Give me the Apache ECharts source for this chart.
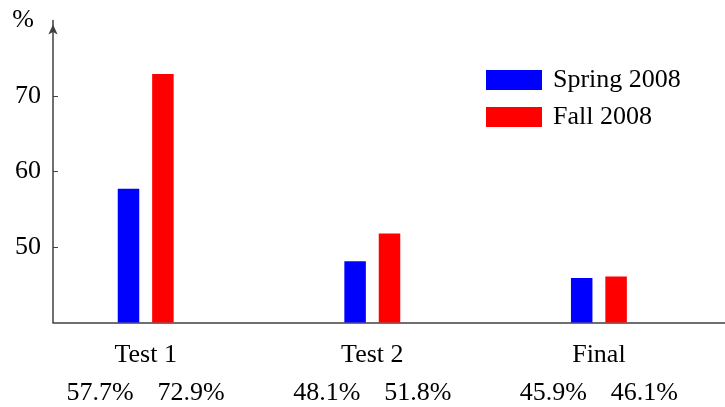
<!DOCTYPE html>
<html>
<head>
<meta charset="utf-8">
<script src="https://cdn.jsdelivr.net/npm/echarts@6/dist/echarts.min.js"></script>
<style>
  html, body { margin: 0; padding: 0; background: #fff; }
  #chart { width: 725px; height: 407px; }
</style>
</head>
<body>
<div id="chart"></div>
<script>
var categories = ['Test 1', 'Test 2', 'Final']
var spring = [57.7, 48.1, 45.9]
var fall = [72.9, 51.8, 46.1]
var yTicks = [50, 60, 70]

var font = 'Liberation Serif'
var fs = 26
var axisColor = '#404040'

var myChart = echarts.init(document.getElementById('chart'))

// 类别轴标签：名称 + 两个百分比
function catLabel (value, idx) {
  return '{c|' + value + '}\n{a|' + spring[idx].toFixed(1) + '%}{b|' + fall[idx].toFixed(1) + '%}'
}

var option = {
  animation: false,
  textStyle: { fontFamily: font },
  legend: {
    orient: 'vertical',
    left: 486,
    top: 67,
    padding: 0,
    icon: 'rect',
    itemWidth: 56,
    itemHeight: 20,
    itemGap: 11,
    itemStyle: { borderWidth: 0 },
    textStyle: { fontFamily: font, fontSize: fs, color: '#000', padding: [0, 0, 0, 6] },
    data: ['Spring 2008', 'Fall 2008']
  },
  grid: [
    { left: 32.4, right: 12.8, top: 20.5, bottom: 84.5 },
    { left: 53, right: 0, top: 20.5, bottom: 84.5 }
  ],
  xAxis: [{
    type: 'category',
    gridIndex: 0,
    data: categories,
    axisLine: { show: false },
    axisTick: { show: false },
    axisLabel: {
      margin: 14,
      formatter: catLabel,
      rich: {
        c: { fontFamily: font, fontSize: fs, color: '#000', lineHeight: 38 },
        a: { fontFamily: font, fontSize: fs, color: '#000', lineHeight: 38, width: 91, align: 'center' },
        b: { fontFamily: font, fontSize: fs, color: '#000', lineHeight: 38, width: 91, align: 'center' }
      }
    }
  }, {
    type: 'value',
    gridIndex: 1,
    min: 0,
    max: 1,
    axisLine: { show: true, lineStyle: { color: axisColor, width: 1.5 } },
    axisTick: { show: false },
    axisLabel: { show: false },
    splitLine: { show: false }
  }],
  yAxis: [{
    type: 'value',
    gridIndex: 0,
    min: 40,
    max: 80,
    show: false
  }, {
    type: 'value',
    gridIndex: 1,
    min: 40,
    max: 80,
    interval: 10,
    name: '%',
    nameLocation: 'end',
    nameGap: 0,
    nameTextStyle: {
      fontFamily: font, fontSize: fs, color: '#000',
      align: 'right', verticalAlign: 'middle', padding: [0, 19, 0, 0]
    },
    axisLine: {
      show: true,
      symbol: ['none', 'arrow'],
      symbolSize: [7, 10],
      symbolOffset: [0, -4],
      lineStyle: { color: axisColor, width: 1.5 }
    },
    axisTick: { show: true, inside: true, length: 5, customValues: yTicks, lineStyle: { color: axisColor, width: 1 } },
    axisLabel: {
      margin: 12, fontFamily: font, fontSize: fs, color: '#000', customValues: yTicks
    },
    splitLine: { show: false }
  }],
  series: [{
    name: 'Spring 2008',
    type: 'bar',
    xAxisIndex: 0,
    yAxisIndex: 0,
    barWidth: 21.5,
    barGap: '60%',
    itemStyle: { color: '#0000ff' },
    data: spring
  }, {
    name: 'Fall 2008',
    type: 'bar',
    xAxisIndex: 0,
    yAxisIndex: 0,
    barWidth: 21.5,
    barGap: '60%',
    itemStyle: { color: '#ff0000' },
    data: fall
  }]
}

myChart.setOption(option)
</script>
</body>
</html>
